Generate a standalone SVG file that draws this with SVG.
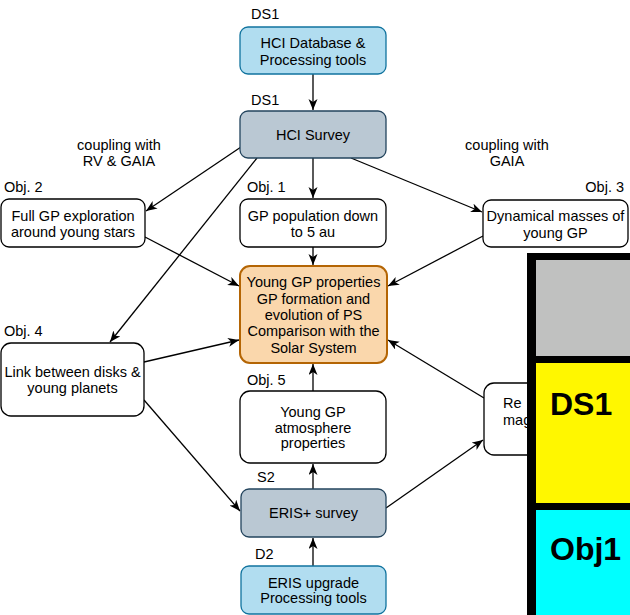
<svg xmlns="http://www.w3.org/2000/svg" width="630" height="615" viewBox="0 0 630 615">
<style>
text{font-family:"Liberation Sans",Arial,sans-serif;font-size:14.5px;fill:#000}
.c{text-anchor:middle}
.box{fill:#fff;stroke:#000;stroke-width:1.3}
.ds{fill:#b1ddf0;stroke:#10739e;stroke-width:1.3}
.sv{fill:#bac8d3;stroke:#23445d;stroke-width:1.3}
.ct{fill:#fad7ac;stroke:#b46504;stroke-width:2}
.ln{fill:none;stroke:#000;stroke-width:1.3;marker-end:url(#ah)}
.lg{font-size:32px;font-weight:bold}
</style>
<defs>
<marker id="ah" markerUnits="userSpaceOnUse" markerWidth="12" markerHeight="10" refX="11" refY="4.5" orient="auto">
<path d="M0,0 L11,4.5 L0,9 L3,4.5 z" fill="#000"/>
</marker>
</defs>
<rect width="630" height="615" fill="#fff"/>
<g id="connectors">
<line class="ln" x1="313" y1="74" x2="313" y2="110"/>
<line class="ln" x1="313" y1="158" x2="313" y2="198"/>
<line class="ln" x1="241" y1="147" x2="146" y2="211"/>
<line class="ln" x1="257" y1="158" x2="110" y2="342"/>
<line class="ln" x1="351" y1="158" x2="482" y2="212"/>
<line class="ln" x1="145" y1="237" x2="239" y2="286"/>
<line class="ln" x1="144" y1="362" x2="239" y2="340"/>
<line class="ln" x1="313" y1="247" x2="313" y2="265"/>
<line class="ln" x1="483" y1="236" x2="388" y2="286"/>
<line class="ln" x1="484" y1="398" x2="388" y2="340"/>
<line class="ln" x1="313" y1="391" x2="313" y2="364"/>
<line class="ln" x1="144" y1="400" x2="240" y2="511"/>
<line class="ln" x1="313" y1="489" x2="313" y2="464"/>
<line class="ln" x1="386" y1="508" x2="483" y2="440"/>
<line class="ln" x1="313" y1="566" x2="313" y2="538"/>
</g>
<g id="hci_db">
<text x="251" y="19">DS1</text>
<rect class="ds" x="240" y="27" width="146" height="47" rx="8"/>
<text class="c" x="313" y="48">HCI Database &amp;</text>
<text class="c" x="313" y="65">Processing tools</text>
</g>
<g id="hci_survey">
<text x="251" y="105">DS1</text>
<rect class="sv" x="240" y="111" width="146" height="47" rx="8"/>
<text class="c" x="313" y="140">HCI Survey</text>
</g>
<g id="coupling_left">
<text class="c" x="119" y="150">coupling with</text>
<text class="c" x="119" y="166">RV &amp; GAIA</text>
</g>
<g id="coupling_right">
<text class="c" x="507" y="150">coupling with</text>
<text class="c" x="507" y="166">GAIA</text>
</g>
<g id="obj2">
<text x="4" y="192">Obj. 2</text>
<rect class="box" x="1" y="199" width="144" height="48" rx="8"/>
<text class="c" x="73" y="221">Full GP exploration</text>
<text class="c" x="73" y="237">around young stars</text>
</g>
<g id="obj1">
<text x="247" y="192">Obj. 1</text>
<rect class="box" x="240" y="199" width="146" height="48" rx="8"/>
<text class="c" x="313" y="221">GP population down</text>
<text class="c" x="313" y="237">to 5 au</text>
</g>
<g id="obj3">
<text x="624" y="192" style="text-anchor:end">Obj. 3</text>
<rect class="box" x="483" y="200" width="145" height="47" rx="8"/>
<text class="c" x="555.5" y="221">Dynamical masses of</text>
<text class="c" x="555.5" y="238">young GP</text>
</g>
<g id="central">
<rect class="ct" x="240" y="266" width="147" height="97" rx="10"/>
<text class="c" x="313.5" y="287">Young GP properties</text>
<text class="c" x="313.5" y="303.5">GP formation and</text>
<text class="c" x="313.5" y="320">evolution of PS</text>
<text class="c" x="313.5" y="336">Comparison with the</text>
<text class="c" x="313.5" y="353">Solar System</text>
</g>
<g id="obj4">
<text x="4" y="336">Obj. 4</text>
<rect class="box" x="1" y="343" width="143" height="73" rx="10"/>
<text class="c" x="72.5" y="377">Link between disks &amp;</text>
<text class="c" x="72.5" y="393">young planets</text>
</g>
<g id="obj5">
<text x="247" y="385">Obj. 5</text>
<rect class="box" x="240" y="391" width="146" height="72" rx="10"/>
<text class="c" x="313" y="417">Young GP</text>
<text class="c" x="313" y="433">atmosphere</text>
<text class="c" x="313" y="448">properties</text>
</g>
<g id="right_node">
<rect class="box" x="484" y="383" width="120" height="72" rx="10"/>
<text x="503" y="408">Re</text>
<text x="503" y="425">mag</text>
</g>
<g id="eris_survey">
<text x="257" y="482">S2</text>
<rect class="sv" x="241" y="489" width="145" height="48" rx="8"/>
<text class="c" x="313.5" y="518">ERIS+ survey</text>
</g>
<g id="eris_upgrade">
<text x="255" y="559">D2</text>
<rect class="ds" x="241" y="566" width="145" height="48" rx="8"/>
<text class="c" x="313.5" y="588">ERIS upgrade</text>
<text class="c" x="313.5" y="603">Processing tools</text>
</g>
<g id="legend">
<rect x="527" y="253" width="103" height="362" fill="#000"/>
<rect x="536" y="260" width="94" height="96" fill="#c0c1c0"/>
<rect x="536" y="363" width="94" height="140" fill="#fff700"/>
<rect x="536" y="510" width="94" height="105" fill="#00ffff"/>
<text class="lg" x="550" y="415">DS1</text>
<text class="lg" x="550" y="560">Obj1</text>
</g>
</svg>
